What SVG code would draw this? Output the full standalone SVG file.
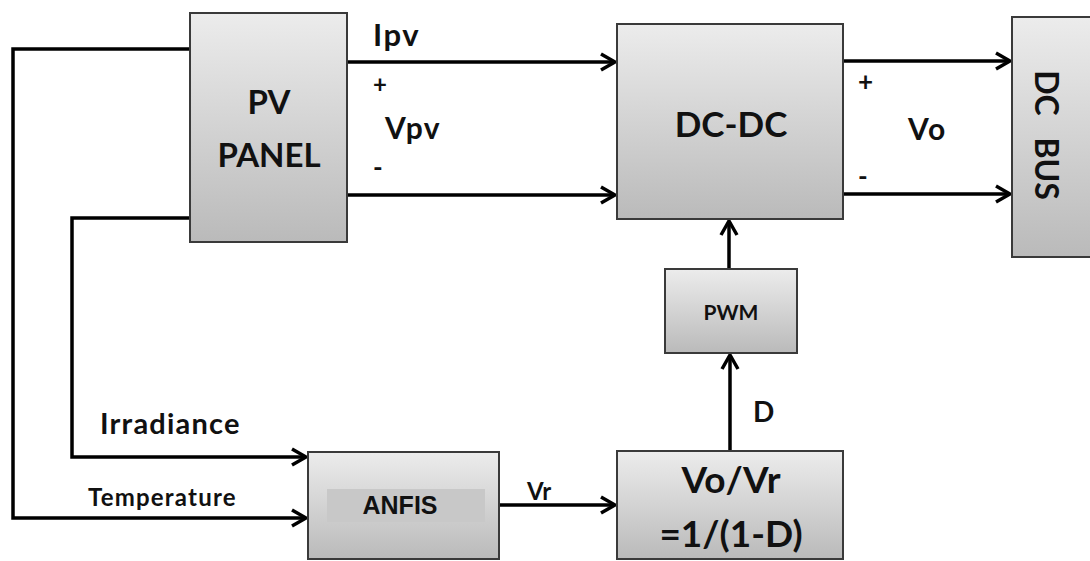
<svg xmlns="http://www.w3.org/2000/svg" width="1090" height="561" viewBox="0 0 1090 561">
<defs>
<linearGradient id="g" x1="0" y1="0" x2="0" y2="1">
<stop offset="0" stop-color="#ececec"/>
<stop offset="1" stop-color="#bababa"/>
</linearGradient>
<marker id="ah" markerUnits="userSpaceOnUse" markerWidth="22" markerHeight="22" viewBox="0 0 22 22" refX="19" refY="11" orient="auto">
<path d="M5,3 L19,11 L5,19" fill="none" stroke="#000" stroke-width="3.5"/>
</marker>
<style>
.box{fill:url(#g);stroke:#3a3a3a;stroke-width:2}
.ln{fill:none;stroke:#000;stroke-width:3.5}
.lb{font-family:Lato,"Liberation Sans",sans-serif;font-weight:bold;fill:#111}
</style>
</defs>
<rect width="1090" height="561" fill="#fff"/>
<g id="connectors">
<path class="ln" d="M190,49 H13 V518 H306" marker-end="url(#ah)" stroke-width="4.5"/>
<path class="ln" d="M190,218 H72 V457 H306" marker-end="url(#ah)" stroke-width="4"/>
<path class="ln" d="M347,62 H615" marker-end="url(#ah)"/>
<path class="ln" d="M347,195 H615" marker-end="url(#ah)"/>
<path class="ln" d="M843,61 H1010" marker-end="url(#ah)"/>
<path class="ln" d="M843,194 H1010" marker-end="url(#ah)"/>
<path class="ln" d="M499,505 H615" marker-end="url(#ah)"/>
<path class="ln" d="M730,451 V355" marker-end="url(#ah)"/>
<path class="ln" d="M729,269 V221" marker-end="url(#ah)"/>
<text class="lb" x="373" y="46" font-size="31" letter-spacing="1.5">Ipv</text>
<text class="lb" x="373" y="93" font-size="24" font-weight="normal">+</text>
<text class="lb" x="385" y="139" font-size="30" letter-spacing="1.5">Vpv</text>
<text class="lb" x="373" y="177" font-size="26" font-weight="normal">-</text>
<text class="lb" x="858" y="91" font-size="26">+</text>
<text class="lb" x="908" y="140" font-size="30" letter-spacing="1.5">Vo</text>
<text class="lb" x="858" y="186" font-size="26">-</text>
<text class="lb" x="100" y="434" font-size="29" letter-spacing="1.2">Irradiance</text>
<text class="lb" x="88" y="506" font-size="24" letter-spacing="1.2">Temperature</text>
<text class="lb" x="527" y="500" font-size="24">Vr</text>
<text class="lb" x="753" y="422" font-size="28">D</text>
</g>
<g id="pv-panel">
<rect class="box" x="190" y="13" width="157" height="229"/>
<text class="lb" x="269" y="114" font-size="33" text-anchor="middle">PV</text>
<text class="lb" x="269" y="167" font-size="33" text-anchor="middle">PANEL</text>
</g>
<g id="dc-dc">
<rect class="box" x="617" y="24" width="226" height="195"/>
<text class="lb" x="731" y="137" font-size="35" text-anchor="middle">DC-DC</text>
</g>
<g id="dc-bus">
<rect class="box" x="1012" y="17" width="90" height="240"/>
<text class="lb" transform="translate(1035,135) rotate(90)" font-size="32" text-anchor="middle" word-spacing="14">DC BUS</text>
</g>
<g id="pwm">
<rect class="box" x="665" y="269" width="132" height="84"/>
<text class="lb" x="731" y="320" font-size="21" text-anchor="middle">PWM</text>
</g>
<g id="anfis">
<rect class="box" x="308" y="452" width="191" height="107"/>
<rect x="327" y="489" width="158" height="33" fill="#c8c8c8"/>
<text x="400" y="514" font-family="'Liberation Sans',Arial,sans-serif" font-weight="bold" font-size="25" fill="#111" text-anchor="middle">ANFIS</text>
</g>
<g id="vo-vr">
<rect class="box" x="617" y="451" width="226" height="108"/>
<text class="lb" x="731" y="493" font-size="37" text-anchor="middle">Vo/Vr</text>
<text class="lb" x="731" y="547" font-size="37" text-anchor="middle">=1/(1-D)</text>
</g>
</svg>
